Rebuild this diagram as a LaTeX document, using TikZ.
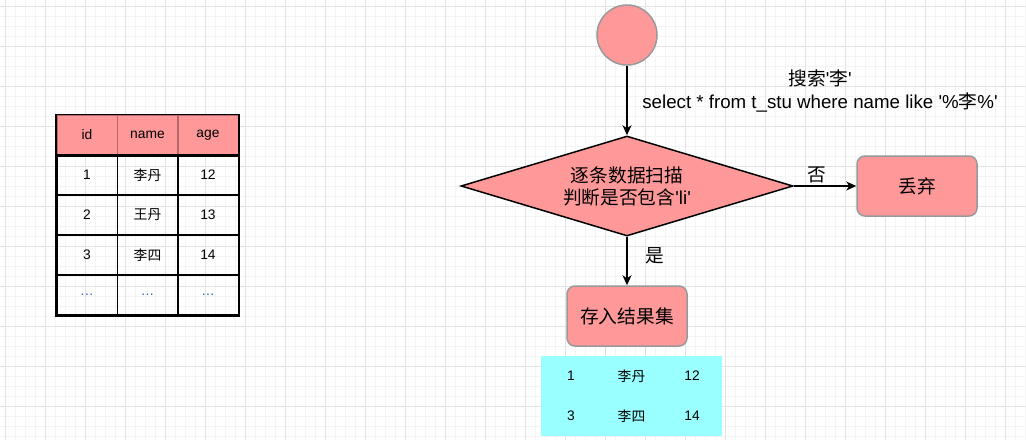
\documentclass[tikz,border=0pt]{standalone}
\usepackage{fontspec}
\setmainfont{Liberation Sans}
\newfontfamily\cjk{Noto Sans CJK SC}
\usetikzlibrary{shapes.geometric,arrows.meta}
\definecolor{pinkfill}{HTML}{FF9999}
\definecolor{greyline}{HTML}{999999}
\definecolor{cyanfill}{HTML}{99FFFF}
\definecolor{headline}{HTML}{B86868}
\definecolor{dotblue}{HTML}{2F62B8}
\definecolor{gridmajor}{HTML}{E2E2E2}
\definecolor{gridminor}{HTML}{F4F4F4}
\newcommand{\sq}{\textquotesingle}
\tikzstyle{startnode} = [circle, draw=greyline, fill=pinkfill, line width=1.5pt, minimum size=60pt, inner sep=0pt]
\tikzstyle{decision} = [diamond, aspect=3.3, draw=black, fill=pinkfill, line width=1.5pt, minimum width=332pt, minimum height=100pt, inner sep=0pt, align=center, font=\fontsize{18.7}{22}\selectfont]
\tikzstyle{process} = [draw=greyline, fill=pinkfill, line width=1.5pt, rectangle, rounded corners=8pt, minimum width=120pt, minimum height=60pt, font=\fontsize{18.7}{22}\selectfont]
\tikzstyle{cell} = [draw=black, line width=1.5pt, minimum width=60.5pt, minimum height=40pt, inner sep=0pt, font=\fontsize{13.8}{16}\selectfont]
\tikzstyle{headcell} = [cell, fill=pinkfill, draw=headline]
\tikzstyle{rescell} = [fill=cyanfill, minimum width=60.5pt, minimum height=40pt, inner sep=0pt, font=\fontsize{13.8}{16}\selectfont]
\tikzstyle{flow} = [-{Stealth[length=10pt,width=9pt,inset=3pt]}, line width=1.5pt]
\tikzstyle{flowtext} = [font=\fontsize{18.7}{23}\selectfont, inner sep=2pt]

\begin{document}
\begin{tikzpicture}[x=1pt,y=-1pt]
\useasboundingbox (0,0) rectangle (1026,440);
\fill[white] (0,0) rectangle (1026,440);
% grid
\foreach \x in {5,15,...,1025} \draw[gridminor, line width=0.8pt] (\x,0) -- (\x,440);
\foreach \y in {6,16,...,436} \draw[gridminor, line width=0.8pt] (0,\y) -- (1026,\y);
\foreach \x in {5,45,...,1005} \draw[gridmajor, line width=0.9pt] (\x,0) -- (\x,440);
\foreach \y in {6,46,...,406} \draw[gridmajor, line width=0.9pt] (0,\y) -- (1026,\y);

% source table
\node[headcell] (t-0-1) at (87,135) {id};
\node[headcell] (t-0-2) at (147.5,135) {name};
\node[headcell] (t-0-3) at (208,135) {age};
\foreach \a/\b/\c [count=\i] in {1/李丹/12, 2/王丹/13, 3/李四/14} {
  \node[cell] (t-\i-1) at (87,135+40*\i) {\a};
  \node[cell] (t-\i-2) at (147.5,135+40*\i) {\cjk \b};
  \node[cell] (t-\i-3) at (208,135+40*\i) {\c};
}
\foreach \x [count=\j] in {87,147.5,208}
  \node[cell, text=dotblue] (t-4-\j) at (\x,295) {.\kern0.5pt.\kern0.5pt.};
\draw[line width=1.5pt] (t-0-1.north west) rectangle (t-4-3.south east);
\draw[line width=1.5pt] (t-0-1.south west) -- (t-0-3.south east);

% flow
\node[startnode] (start) at (627,35) {};
\node[flowtext, align=center] (query) at (820,91) {{\cjk 搜索}\sq{\cjk 李}\sq\\select * from t\_stu where name like \sq\%{\cjk 李}\%\sq};
\node[decision] (scan) at (627,186) {{\cjk 逐条数据扫描}\\{\cjk 判断是否包含}\sq li\sq};
\node[process] (drop) at (917,186) {\cjk 丢弃};
\node[process] (store) at (627,316) {\cjk 存入结果集};

\draw[flow] (start) -- (scan);
\draw[flow] (scan) -- node[flowtext, above, pos=0.37] {\cjk 否} (drop);
\draw[flow] (scan) -- node[flowtext, right=16pt, pos=0.4] {\cjk 是} (store);

% result rows
\node[rescell] (r-1-1) at (571,376) {1};
\node[rescell] (r-1-2) at (631.5,376) {\cjk 李丹};
\node[rescell] (r-1-3) at (692,376) {12};
\node[rescell] (r-2-1) at (571,416) {3};
\node[rescell] (r-2-2) at (631.5,416) {\cjk 李四};
\node[rescell] (r-2-3) at (692,416) {14};
\end{tikzpicture}
\end{document}
